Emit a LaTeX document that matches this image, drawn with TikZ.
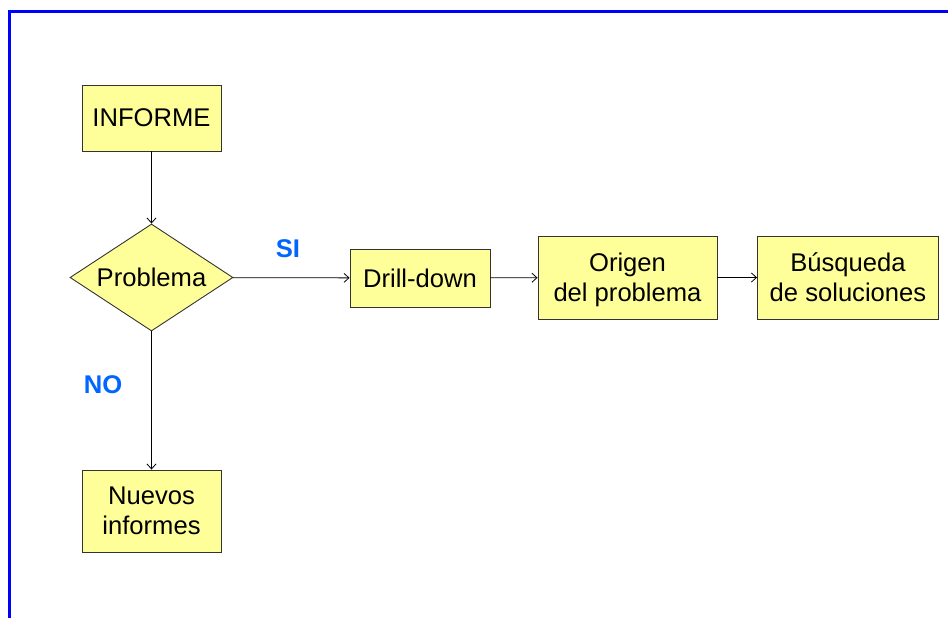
\documentclass[tikz,border=0pt]{standalone}
\usepackage{fontspec}
\setmainfont{Liberation Sans}
\usetikzlibrary{shapes.geometric,arrows.meta}
\definecolor{boxfill}{HTML}{FFFF99}
\definecolor{frameblue}{HTML}{0000FF}
\definecolor{labelblue}{HTML}{0066FF}
\begin{document}
\begin{tikzpicture}[x=1pt,y=-1pt,
  every node/.style={font=\fontsize{25.6}{30}\selectfont, inner sep=0pt, text depth=0pt},
  stepbox/.style={draw=black!80, line width=0.9pt, fill=boxfill, align=center},
  decision/.style={diamond, draw=black!80, line width=0.9pt, fill=boxfill, shape aspect=1.5},
  flow/.style={draw=black, line width=0.8pt, -{Straight Barb[length=5pt,width=9pt]}},
  answer/.style={text=labelblue, font=\fontsize{25.6}{30}\selectfont\bfseries}]
  % page area
  \useasboundingbox (0,0) rectangle (948,618);
  % frame (top and left edges)
  \draw[frameblue, line width=3pt] (9.5,618) -- (9.5,12) -- (948,12);

  % boxes
  \node[stepbox, minimum width=139pt, minimum height=66pt] (inf) at (151.5,118) {INFORME};
  \node[decision, minimum width=163pt, minimum height=107pt] (prob) at (151.5,277.5) {Problema};
  \node[stepbox, minimum width=140pt, minimum height=58pt] (drill) at (420,278) {Drill-down};
  \node[stepbox, minimum width=179pt, minimum height=83pt] (orig) at (627.5,277.5) {Origen\\del problema};
  \node[stepbox, minimum width=181pt, minimum height=83pt] (busq) at (848,277.5) {Búsqueda\\de soluciones};
  \node[stepbox, minimum width=139pt, minimum height=82pt] (nuev) at (151.5,511) {Nuevos\\informes};

  % answers
  \node[answer] (si) at (288,249) {SI};
  \node[answer] (no) at (103,385) {NO};

  % connectors
  \draw[flow] (inf) -- (prob);
  \draw[flow] (prob) -- (drill);
  \draw[flow] (drill) -- (orig);
  \draw[flow] (orig) -- (busq);
  \draw[flow] (prob) -- (nuev);
\end{tikzpicture}
\end{document}
